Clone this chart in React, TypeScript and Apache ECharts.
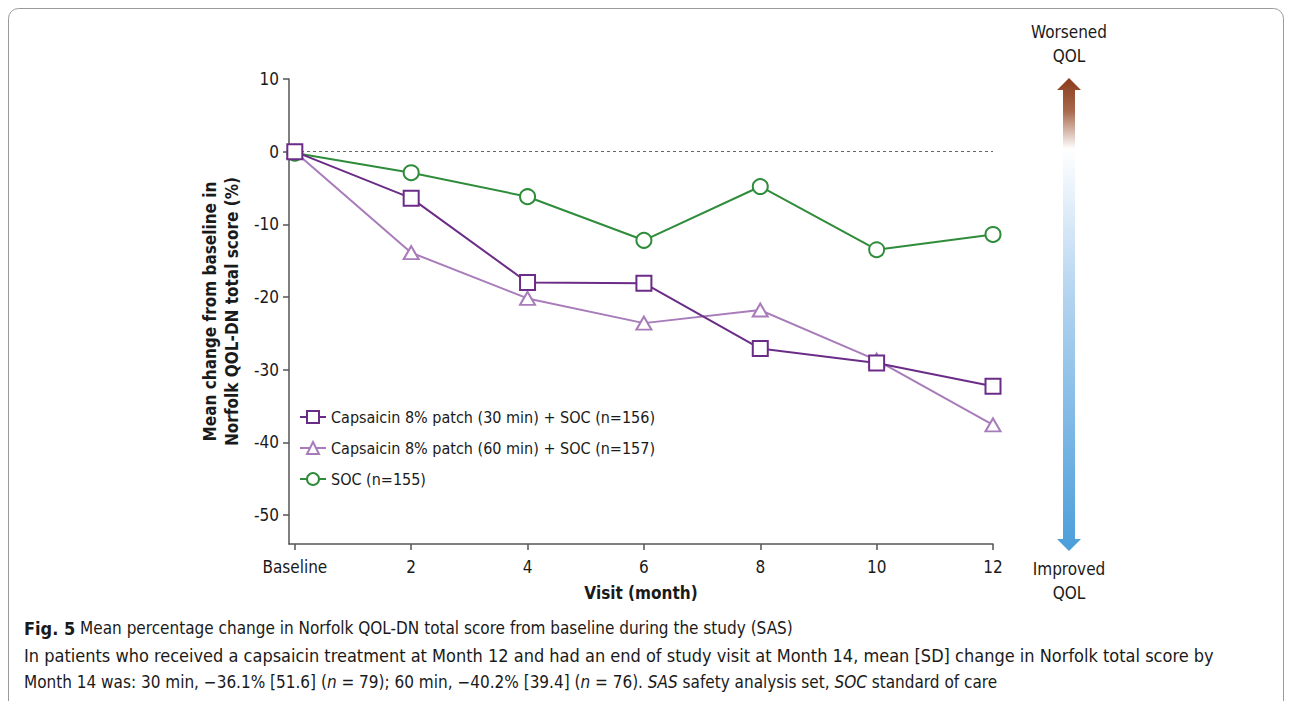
import React, { useEffect, useRef } from "react";
import * as echarts from "echarts";

const months = [0, 2, 4, 6, 8, 10, 12];
const xTickValues = [0, 2, 4, 6, 8, 10, 12];
const yTickValues = [10, 0, -10, -20, -30, -40, -50];
const seriesNames = [
  "Capsaicin 8% patch (30 min) + SOC (n=156)",
  "Capsaicin 8% patch (60 min) + SOC (n=157)",
  "SOC (n=155)",
];
const patch30 = [0, -6.4, -18.0, -18.1, -27.1, -29.1, -32.3];
const patch60 = [0, -13.9, -20.2, -23.6, -21.8, -28.7, -37.6];
const soc = [-0.2, -2.9, -6.2, -12.2, -4.8, -13.5, -11.4];

const FONT = "'Liberation Sans Narrow', 'DejaVu Sans Condensed', 'Roboto', sans-serif";
const CAP_FONT = "'Liberation Sans Narrow', 'DejaVu Sans Condensed', 'Open Sans', sans-serif";

export default function App() {
  const ref = useRef<HTMLDivElement>(null);
  useEffect(() => {
    if (!ref.current) return;
    const chart = echarts.init(ref.current, null, { renderer: "svg" });
    const pair = (vals: number[]) => months.map((m, i) => [m, vals[i]]);
    const colors = ["#6b2c87", "#a87cba", "#2e8c3a"];
    const symbols = ["rect", "triangle", "circle"];
    const datasets = [patch30, patch60, soc];
    const series: any[] = datasets.map((d, i) => ({
      name: seriesNames[i],
      type: "line",
      data: pair(d),
      symbol: symbols[i],
      symbolSize: i === 1 ? [15, 13] : 15,
      z: i === 0 ? 5 : i === 1 ? 3 : 4,
      lineStyle: { color: colors[i], width: 2 },
      itemStyle: { color: "#ffffff", borderColor: colors[i], borderWidth: 2 },
      emphasis: { disabled: true },
    }));
    series[0].markLine = {
      silent: true,
      symbol: "none",
      label: { show: false },
      lineStyle: { color: "#666", type: [3, 3], width: 1 },
      data: [{ yAxis: 0 }],
      z: 1,
    };

    const arrowPts = [
      [1069, 78],
      [1057, 90],
      [1063, 90],
      [1063, 539],
      [1057, 539],
      [1069, 551],
      [1081, 539],
      [1075, 539],
      [1075, 90],
      [1081, 90],
    ];

    chart.setOption({
      animation: false,
      backgroundColor: "#ffffff",
      textStyle: { fontFamily: FONT },
      grid: { left: 289, top: 79, width: 704, height: 465, containLabel: false },
      legend: {
        orient: "vertical",
        left: 294,
        top: 404,
        itemWidth: 26,
        itemHeight: 15,
        itemGap: 15,
        itemTextGap: 4,
        data: seriesNames,
        textStyle: { fontFamily: FONT, fontSize: 16, color: "#1a1a1a" },
        selectedMode: false,
      },
      xAxis: {
        type: "value",
        min: -0.1,
        max: 12,
        name: "Visit (month)",
        nameLocation: "middle",
        nameGap: 40,
        nameTextStyle: { fontFamily: FONT, fontSize: 17, fontWeight: "bold", color: "#1a1a1a" },
        axisLine: { show: true, onZero: false, lineStyle: { color: "#555", width: 1.5 } },
        axisTick: { show: true, length: 6, customValues: xTickValues, lineStyle: { color: "#555", width: 1.5 } },
        axisLabel: {
          customValues: xTickValues,
          margin: 14,
          fontSize: 17,
          color: "#1a1a1a",
          fontFamily: FONT,
          formatter: (v: number) => (v === 0 ? "Baseline" : String(v)),
        },
        splitLine: { show: false },
      },
      yAxis: {
        type: "value",
        min: -54,
        max: 10,
        name: "Mean change from baseline in\nNorfolk QOL-DN total score (%)",
        nameLocation: "middle",
        nameGap: 46,
        nameTextStyle: { fontFamily: FONT, fontSize: 17, fontWeight: "bold", color: "#1a1a1a", lineHeight: 22 },
        axisLine: { show: true, onZero: false, lineStyle: { color: "#555", width: 1.5 } },
        axisTick: { show: true, length: 6, customValues: yTickValues, lineStyle: { color: "#555", width: 1.5 } },
        axisLabel: { customValues: yTickValues, margin: 10, fontSize: 17, color: "#1a1a1a", fontFamily: FONT },
        splitLine: { show: false },
      },
      series,
      graphic: [
        {
          type: "rect",
          shape: { x: 8.5, y: 8.5, width: 1275, height: 720, r: 10 },
          style: { fill: "none", stroke: "#9a9a9a", lineWidth: 1 },
          silent: true,
        },
        {
          type: "polygon",
          shape: { points: arrowPts },
          style: {
            fill: new echarts.graphic.LinearGradient(0, 0, 0, 1, [
              { offset: 0, color: "#8a3b1c" },
              { offset: 0.07, color: "#a8684c" },
              { offset: 0.15, color: "#ffffff" },
              { offset: 0.45, color: "#b5d5f0" },
              { offset: 1, color: "#4a9edb" },
            ]),
          },
          silent: true,
        },
        {
          type: "text",
          x: 1069,
          y: 44,
          style: {
            text: "Worsened\nQOL",
            align: "center",
            verticalAlign: "middle",
            fontFamily: FONT,
            fontSize: 17,
            lineHeight: 24,
            fill: "#1a1a1a",
          },
        },
        {
          type: "text",
          x: 1069,
          y: 581,
          style: {
            text: "Improved\nQOL",
            align: "center",
            verticalAlign: "middle",
            fontFamily: FONT,
            fontSize: 17,
            lineHeight: 24,
            fill: "#1a1a1a",
          },
        },
        {
          type: "text",
          x: 24,
          y: 628,
          style: {
            text: "{b|Fig. 5} Mean percentage change in Norfolk QOL-DN total score from baseline during the study (SAS)",
            verticalAlign: "middle",
            fontFamily: CAP_FONT,
            fontSize: 17,
            fill: "#1a1a1a",
            rich: { b: { fontWeight: "bold", fontFamily: CAP_FONT, fontSize: 18, fill: "#1a1a1a" } },
          },
        },
        {
          type: "text",
          x: 24,
          y: 655,
          style: {
            text: "In patients who received a capsaicin treatment at Month 12 and had an end of study visit at Month 14, mean [SD] change in Norfolk total score by",
            verticalAlign: "middle",
            fontFamily: CAP_FONT,
            fontSize: 18,
            fill: "#1a1a1a",
          },
        },
        {
          type: "text",
          x: 24,
          y: 682,
          style: {
            text: "Month 14 was: 30 min, \u221236.1% [51.6] ({i|n} = 79); 60 min, \u221240.2% [39.4] ({i|n} = 76). {i|SAS} safety analysis set, {i|SOC} standard of care",
            verticalAlign: "middle",
            fontFamily: CAP_FONT,
            fontSize: 17,
            fill: "#1a1a1a",
            rich: { i: { fontStyle: "italic", fontFamily: CAP_FONT, fontSize: 17, fill: "#1a1a1a" } },
          },
        },
      ],
    });
    return () => chart.dispose();
  }, []);
  return (
    <div
      ref={ref}
      style={{ position: "fixed", left: 0, top: 0, width: 1292, height: 701, background: "#fff" }}
    />
  );
}
